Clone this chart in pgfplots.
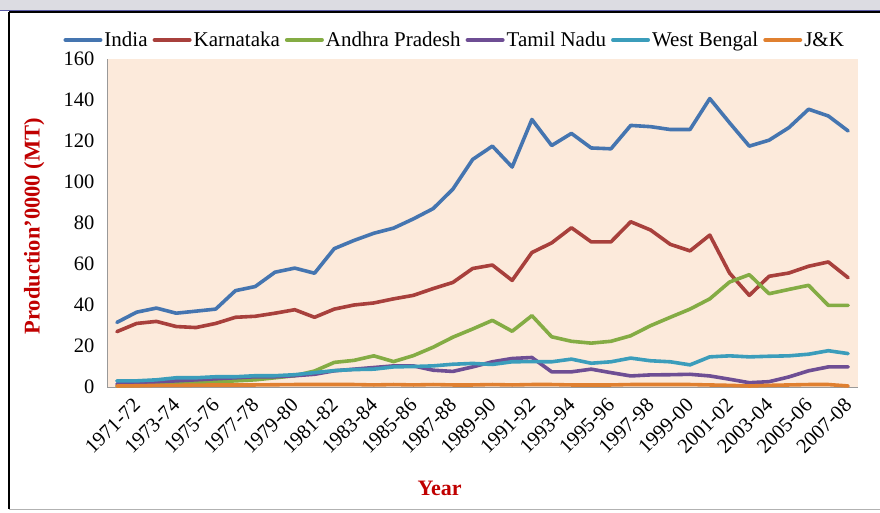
\documentclass[border=0pt]{standalone}
\usepackage{pgfplots}
\pgfplotsset{compat=1.18}
\usepackage{pgfplotstable}
\usepackage{fontspec}
\setmainfont{Liberation Serif}
\definecolor{cIndia}{HTML}{4575B0}
\definecolor{cKar}{HTML}{A8403C}
\definecolor{cAP}{HTML}{84AC44}
\definecolor{cTN}{HTML}{6E4E94}
\definecolor{cWB}{HTML}{3B9DBB}
\definecolor{cJK}{HTML}{E08030}
\definecolor{bgpeach}{HTML}{FCEADB}
\definecolor{labred}{HTML}{C00000}
\pgfplotstableread{
idx India Kar AP TN WB JK
0 31.5 27 0.5 1.5 3 0.5
1 36.5 31 0.8 2 3 0.6
2 38.5 32 1 2.5 3.5 0.8
3 36 29.5 1.5 3 4.5 0.8
4 37 29 2 3.5 4.5 0.9
5 38 31 2.5 4 5 1
6 47 34 3 4.5 5 1
7 49 34.5 3.5 5 5.5 1
8 56 36 4.5 5 5.5 1.1
9 58 37.7 5.5 5.5 6 1.2
10 55.5 34 7.8 6.2 7 1.2
11 67.5 38 12 7.9 8 1.2
12 71.5 40 13 8.7 8.5 1.2
13 75 41 15.2 9.5 8.7 1
14 77.5 43 12.4 10.3 9.8 1.2
15 82 44.7 15.3 10.3 10 1
16 87 48 19.4 8.2 10.3 1.2
17 96.5 51 24.3 7.6 11.1 1
18 111 57.8 28.3 9.8 11.5 1
19 117.5 59.5 32.5 12.3 11 1.2
20 107.3 52 27.2 13.9 12.3 1
21 130.5 65.6 34.8 14.4 12.4 1.2
22 117.8 70.3 24.5 7.4 12.3 1.2
23 123.7 77.7 22.3 7.4 13.6 1
24 116.6 70.8 21.4 8.7 11.6 1
25 116.2 70.8 22.3 7 12.3 1
26 127.6 80.6 25 5.4 14.1 1.2
27 127 76.6 29.9 5.9 12.8 1.2
28 125.6 69.6 34 6 12.3 1.2
29 125.6 66.4 38 6.2 10.8 1.2
30 140.7 74.1 43 5.4 14.7 1
31 128.9 55.6 51.2 3.8 15.2 0.8
32 117.5 44.7 54.8 2.1 14.7 0.5
33 120.4 54 45.5 2.6 15 0.8
34 126.5 55.6 47.6 4.9 15.2 1
35 135.5 58.9 49.6 7.9 16 1.2
36 132.2 61 39.8 9.8 17.7 1.2
37 124.9 53.3 39.8 9.8 16.3 0.5
}\datatable
\begin{document}
\begin{tikzpicture}[x=1pt,y=1pt]
\path[use as bounding box] (0,0) rectangle (880,512);
\fill[blue!10!gray!25] (0,502) rectangle (880,512);
\draw[gray!70!blue, line width=0.8pt] (0,502) -- (880,502);
\draw[black, line width=1.6pt] (9,500) -- (880,500);
\draw[black, line width=1.6pt] (9,500) -- (9,3);
\draw[gray!60, line width=1pt] (9,3) -- (880,3);
\begin{axis}[
  at={(107pt,125pt)}, anchor=south west,
  width=751pt, height=328pt, scale only axis,
  xmin=-0.5, xmax=37.5, ymin=0, ymax=160,
  ytick={0,20,...,160},
  xtick={0,2,...,36},
  xticklabels={1971-72,1973-74,1975-76,1977-78,1979-80,1981-82,1983-84,1985-86,1987-88,1989-90,1991-92,1993-94,1995-96,1997-98,1999-00,2001-02,2003-04,2005-06,2007-08},
  major tick length=0pt,
  axis x line*=bottom, axis y line*=left,
  axis line style={draw=gray!80, line width=0.8pt, -},
  axis background/.style={fill=bgpeach},
  /pgf/number format/assume math mode=true,
  yticklabel style={font=\fontsize{20.5}{20.5}\selectfont, xshift=-9pt},
  xticklabel style={font=\fontsize{20.5}{20.5}\selectfont, rotate=45, anchor=north east, yshift=-14pt, xshift=7pt},
  ylabel={Production'0000 (MT)},
  ylabel style={at={(axis description cs:-0.097,0.49)}, anchor=center, font=\fontsize{22.5}{22.5}\selectfont\bfseries, text=labred},
  xlabel={Year},
  xlabel style={at={(axis description cs:0.443,-0.308)}, anchor=center, font=\fontsize{22}{22}\selectfont\bfseries, text=labred},
  legend columns=6,
  legend style={at={(axis description cs:0.463,1.058)}, anchor=center, draw=none, fill=none,
    font=\fontsize{21}{21}\selectfont, inner sep=0pt,
    /tikz/every even column/.append style={column sep=3pt}},
  legend image code/.code={\draw[line width=4pt, line cap=round] (0pt,0pt) -- (35pt,0pt);},
  every axis plot/.append style={line width=3.6pt, line join=round, line cap=round, mark=none},
  clip=false,
]
\addplot[cIndia] table[x=idx, y=India] {\datatable};
\addplot[cKar] table[x=idx, y=Kar] {\datatable};
\addplot[cAP] table[x=idx, y=AP] {\datatable};
\addplot[cTN] table[x=idx, y=TN] {\datatable};
\addplot[cWB] table[x=idx, y=WB] {\datatable};
\addplot[cJK] table[x=idx, y=JK] {\datatable};
\legend{India, Karnataka, Andhra Pradesh, Tamil Nadu, West Bengal, J\&K}
\end{axis}
\end{tikzpicture}
\end{document}
